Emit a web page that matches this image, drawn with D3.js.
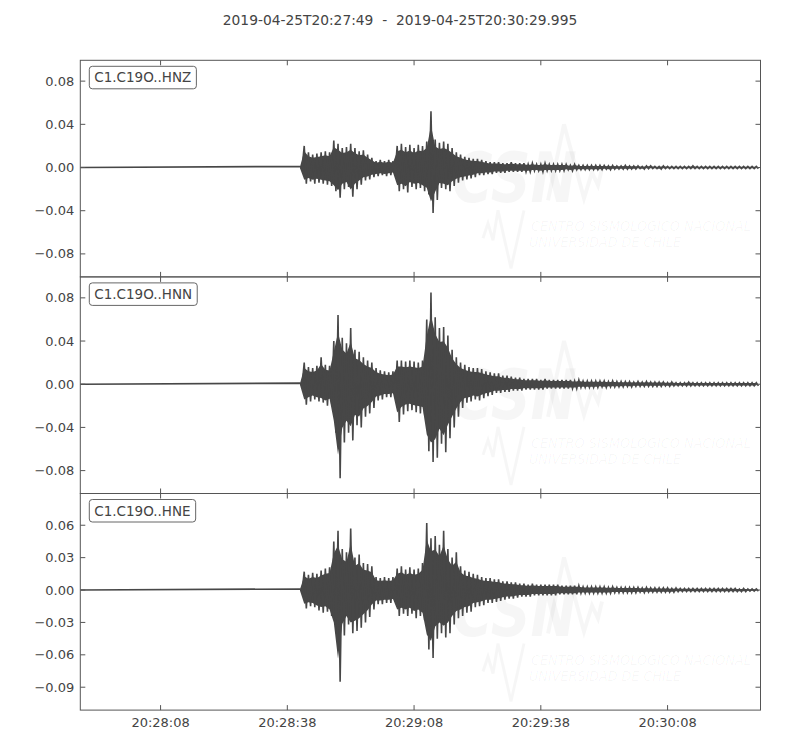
<!DOCTYPE html>
<html><head><meta charset="utf-8">
<script src="https://cdn.jsdelivr.net/npm/d3@7"></script>
<style>body{margin:0;background:#fff}svg{display:block}text{white-space:pre}</style>
</head><body>
<svg id="chart" width="800" height="750"></svg>
<script>
// ---------- data ----------
const startTime = "2019-04-25T20:27:49";
const endTime = "2019-04-25T20:30:29.995";
const traceIds = ["C1.C19O..HNZ", "C1.C19O..HNN", "C1.C19O..HNE"];
const xTickLabels = ["20:28:08", "20:28:38", "20:29:08", "20:29:38", "20:30:08"];
const yTicksZ = [-0.08, -0.04, 0.00, 0.04, 0.08];
const yTicksN = [-0.08, -0.04, 0.00, 0.04, 0.08];
const yTicksE = [-0.09, -0.06, -0.03, 0.00, 0.03, 0.06];
const yLimZ = [-0.1013, 0.0993];
const yLimN = [-0.1012, 0.0994];
const yLimE = [-0.1112, 0.0894];
// envelope per 1 s bin, seconds after start, amplitudes in units of 1e-3
const envStart = 52;
const envUnit = 1e-3;
const hnzMax = [1,20,14,12,13,14,15,14,25,22, 18,19,22,18,15,16,12,9,6,7, 6,7,6,20,22,19,21,18,21,20,
  24,52,26,23,24,22,18,14,12,10, 9,8,8,7,6,5,5,5,4,4, 5,4,4,4,3,4,3,3,4,3, 3,3,3,3,2,3,2,2,2,2,
  2,2,2,1.5,2,1.5,1.5,2,1.5,1.5, 1.5,1,1.5,1.5,1,1,1.5,1,1,1, 1,1,1,1.5,1,1,1,1,1,1, 1,1,1,1,1,1,1,1,1];
const hnzMin = [-1,-15,-13,-15,-14,-15,-16,-17,-22,-28, -20,-18,-27,-20,-16,-12,-11,-9,-8,-7, -8,-7,-6,-22,-20,-23,-18,-20,-19,-22,
  -25,-42,-30,-19,-20,-22,-17,-14,-12,-11, -10,-9,-7,-7,-6,-6,-5,-5,-5,-4, -4,-4,-4,-4,-4,-3,-3,-4,-3,-3, -3,-3,-3,-2,-3,-2,-2,-2,-2,-2,
  -2,-2,-1.5,-2,-1.5,-1.5,-1.5,-1.5,-1.5,-1.5, -1,-1.5,-1,-1,-1,-1.5,-1,-1,-1,-1, -1,-1,-1,-1,-1,-1,-1,-1,-1,-1, -1,-1,-1,-1,-1,-1,-1,-1,-1];
const hnnMax = [1,20,16,15,17,25,18,17,40,64, 43,38,52,32,30,25,22,20,15,13, 12,11,12,22,22,21,22,21,20,22,
  60,85,62,52,53,45,32,25,20,18, 16,15,15,14,12,11,10,10,8,8, 7,6,6,5,5,5,5,4,5,4, 4,4,4,4,4,3,4,3,3,3,
  3,3,3,2.5,3,2.5,2.5,2.5,2.5,2, 2.5,2,2.5,2,2,2,2,1.5,2,1.5, 1.5,1.5,2,1.5,1.5,1.5,1.5,1.5,1.5,1.5, 1.5,1.5,1.5,1.5,1.5,1.5,1.5,1.5,1.5];
const hnnMin = [-1,-19,-16,-14,-16,-17,-20,-18,-45,-87, -54,-45,-52,-38,-40,-30,-27,-22,-15,-14, -12,-12,-11,-35,-28,-25,-24,-26,-27,-28,
  -62,-72,-68,-55,-63,-50,-40,-30,-22,-17, -16,-14,-15,-13,-11,-10,-8,-8,-7,-7, -6,-6,-6,-5,-5,-5,-5,-5,-4,-4, -4,-4,-4,-4,-4,-4,-3,-3,-3,-3,
  -3,-2.5,-3,-2.5,-2.5,-2.5,-2.5,-2,-2.5,-2, -2,-2,-2,-2,-2,-2,-1.5,-2,-1.5,-1.5, -1.5,-1.5,-1.5,-1.5,-1.5,-1.5,-1.5,-1.5,-1.5,-1.5, -1.5,-1.5,-1.5,-1.5,-1.5,-1.5,-1.5,-1.5,-1.5];
const hneMax = [1,17,14,16,15,18,20,21,45,55, 38,35,57,30,33,25,24,22,12,11, 12,11,12,20,22,19,21,19,20,25,
  62,48,50,42,55,38,30,35,22,18, 17,15,14,12,11,11,10,10,8,8, 7,7,6,6,5,6,5,5,5,5, 5,5,4,4,4,4,4,3,3,3,
  3,3,3,2.5,3,2.5,2.5,2.5,2.5,2.5, 2.5,2,2.5,2,2,2,2,2,1.5,2, 1.5,1.5,1.5,1.5,1.5,1.5,1.5,1.5,1.5,1.5, 1.5,1.5,1.5,1.5,1,1.5,1,1,1];
const hneMin = [-1,-17,-15,-16,-19,-21,-20,-24,-40,-85, -42,-32,-40,-38,-35,-30,-25,-18,-13,-13, -12,-12,-11,-24,-22,-24,-22,-26,-24,-28,
  -55,-63,-45,-40,-44,-40,-32,-26,-24,-21, -20,-16,-15,-14,-12,-12,-11,-10,-9,-8, -8,-7,-6,-6,-6,-5,-5,-5,-5,-5, -5,-4,-4,-4,-4,-4,-3,-3,-3,-3,
  -3,-3,-3,-3,-2.5,-2.5,-2.5,-2.5,-2.5,-2.5, -2,-2.5,-2,-2,-2,-2,-2,-2,-2,-1.5, -1.5,-1.5,-1.5,-1.5,-1.5,-1.5,-1.5,-1.5,-1.5,-1.5, -1.5,-1.5,-1.5,-1.5,-1.5,-1.5,-1,-1,-1];

// ---------- layout ----------
const W = 800;
const L = 80.3, R = 760.5, T = 60.3, PH = 216.6;
const textCol = "#444", axisCol = "#555", waveCol = "#474747";
const font = "'DejaVu Sans', sans-serif";

const svg = d3.select("#chart");
const t0 = new Date(startTime + "Z"), t1 = new Date(endTime + "Z");
const x = d3.scaleUtc().domain([t0, t1]).range([L, R]);
const sec = s => new Date(t0.getTime() + s * 1000);
const xTickVals = xTickLabels.map(s => new Date(startTime.slice(0, 11) + s + "Z"));
const fmt = d3.utcFormat("%H:%M:%S");

// title (centred on the figure)
svg.append("text").attr("x", W / 2).attr("y", 25).attr("text-anchor", "middle")
  .attr("font-family", font).attr("font-size", 13.8).attr("fill", textCol)
  .text(startTime + "\u00a0\u00a0-\u00a0\u00a0" + endTime);

const panels = [
  {id: traceIds[0], lim: yLimZ, ticks: yTicksZ, mx: hnzMax, mn: hnzMin},
  {id: traceIds[1], lim: yLimN, ticks: yTicksN, mx: hnnMax, mn: hnnMin},
  {id: traceIds[2], lim: yLimE, ticks: yTicksE, mx: hneMax, mn: hneMin},
];

panels.forEach((p, k) => {
  const top = T + k * PH, bot = top + PH;
  const y = d3.scaleLinear().domain(p.lim).range([bot, top]);
  const g = svg.append("g");
  const clipId = "clip" + k;
  svg.append("clipPath").attr("id", clipId).append("rect")
    .attr("x", L).attr("y", top).attr("width", R - L).attr("height", PH);

  // faint watermark
  const wm = g.append("g").attr("fill", "#000").attr("fill-opacity", 0.035).attr("stroke", "none");
  wm.append("text").attr("x", 452).attr("y", top + 142).attr("font-family", font)
    .attr("font-size", 70).attr("font-weight", "bold").attr("font-style", "italic").attr("textLength", 125)
    .attr("lengthAdjust", "spacingAndGlyphs").text("CSN");
  wm.append("text").attr("x", 531).attr("y", top + 171).attr("font-family", font)
    .attr("font-size", 14).attr("font-style", "italic").attr("textLength", 220)
    .attr("lengthAdjust", "spacingAndGlyphs").text("CENTRO SISMOLÓGICO NACIONAL");
  wm.append("text").attr("x", 529).attr("y", top + 187).attr("font-family", font)
    .attr("font-size", 14).attr("font-style", "italic").attr("textLength", 152)
    .attr("lengthAdjust", "spacingAndGlyphs").text("UNIVERSIDAD DE CHILE");
  wm.append("path").attr("fill", "none").attr("stroke", "#000").attr("stroke-opacity", 0.035)
    .attr("stroke-width", 3)
    .attr("d", `M483,${top+178} L488,${top+163} L493,${top+180} L498,${top+150} L511,${top+208} L524,${top+150}`);
  wm.append("path").attr("fill", "none").attr("stroke", "#000").attr("stroke-opacity", 0.035)
    .attr("stroke-width", 4)
    .attr("d", `M548,${top+140} L564,${top+64} L584,${top+138} L592,${top+112} L598,${top+125} L602,${top+108}`);

  // waveform from envelope data
  const env = p.mx.map((v, i) => ({t: envStart + i, hi: v * envUnit, lo: p.mn[i] * envUnit}));
  const pts = [[0, 0]];
  env.forEach(d => { pts.push([d.t, d.hi]); pts.push([d.t + 0.5, d.lo]); });
  const wg = g.append("g").attr("clip-path", `url(#${clipId})`);
  wg.append("path").datum(env)
    .attr("d", d3.area().x(d => x(sec(d.t))).y0(d => y(d.lo * 0.75)).y1(d => y(d.hi * 0.75)))
    .attr("fill", waveCol);
  wg.append("path").datum(pts)
    .attr("d", d3.line().x(d => x(sec(d[0]))).y(d => y(d[1])))
    .attr("fill", "none").attr("stroke", waveCol).attr("stroke-width", 1.6);

  // frame
  g.append("rect").attr("x", L).attr("y", top).attr("width", R - L).attr("height", PH)
    .attr("fill", "none").attr("stroke", axisCol).attr("stroke-width", 1);

  // ticks (inward, all sides)
  const tl = 5;
  p.ticks.forEach(v => {
    const yy = y(v);
    g.append("line").attr("x1", L).attr("x2", L + tl).attr("y1", yy).attr("y2", yy).attr("stroke", axisCol);
    g.append("line").attr("x1", R).attr("x2", R - tl).attr("y1", yy).attr("y2", yy).attr("stroke", axisCol);
    g.append("text").attr("x", L - 6).attr("y", yy).attr("dy", "0.35em").attr("text-anchor", "end")
      .attr("font-family", font).attr("font-size", 13).attr("fill", textCol)
      .text(d3.format(".2f")(v).replace("-", "\u2212"));
  });
  xTickVals.forEach(d => {
    const xx = x(d);
    g.append("line").attr("x1", xx).attr("x2", xx).attr("y1", top).attr("y2", top + tl).attr("stroke", axisCol);
    g.append("line").attr("x1", xx).attr("x2", xx).attr("y1", bot).attr("y2", bot - tl).attr("stroke", axisCol);
    if (k === panels.length - 1) {
      g.append("text").attr("x", xx).attr("y", bot + 17).attr("text-anchor", "middle")
        .attr("font-family", font).attr("font-size", 13).attr("fill", textCol).text(fmt(d));
    }
  });

  // label box
  const lab = g.append("g");
  const txt = lab.append("text").attr("x", L + 14).attr("y", top + 22)
    .attr("font-family", font).attr("font-size", 13.5).attr("fill", textCol).text(p.id);
  const bb = txt.node().getBBox();
  lab.insert("rect", "text").attr("x", L + 9).attr("y", top + 6).attr("width", bb.width + 10).attr("height", 22.5)
    .attr("rx", 3).attr("fill", "#fff").attr("stroke", "#666").attr("stroke-width", 1);
});
</script>
</body></html>
